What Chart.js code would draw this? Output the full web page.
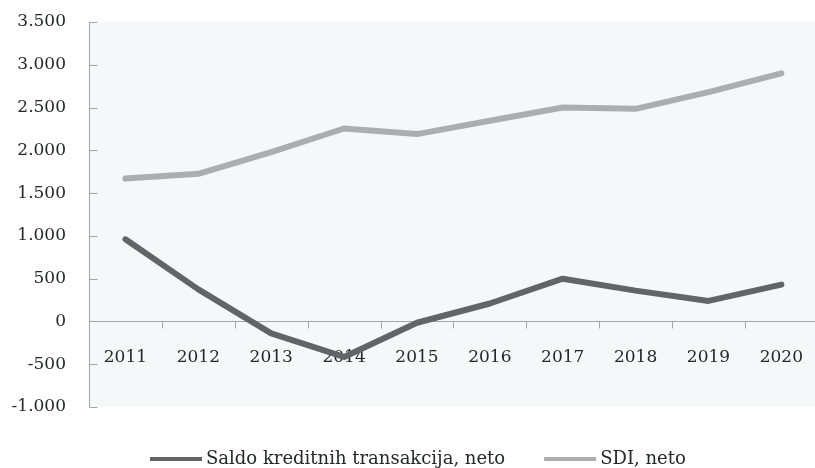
<!DOCTYPE html>
<html>
<head>
<meta charset="utf-8">
<script src="https://cdn.jsdelivr.net/npm/chart.js@4.4.1/dist/chart.umd.min.js"></script>
<style>
    html, body { margin: 0; padding: 0; background: #ffffff; }
    #wrap { width: 815px; height: 468px; overflow: hidden; position: relative; }
    #chart { position: absolute; left: 0; top: 0; }
</style>
</head>
<body>
<div id="wrap"><canvas id="chart" width="829" height="468"></canvas></div>
<script>
// Data
const years = ['2011', '2012', '2013', '2014', '2015', '2016', '2017', '2018', '2019', '2020'];
const saldoKredita = [960, 375, -140, -415, -15, 210, 500, 360, 240, 430];
const sdiNeto = [1670, 1725, 1980, 2255, 2190, 2345, 2500, 2485, 2680, 2900];
const seriesLabels = ['Saldo kreditnih transakcija, neto', 'SDI, neto'];
const yMin = -1000;
const yMax = 3500;
const yStep = 500;

const FONT = '"DejaVu Serif", "Liberation Serif", serif';
const FONT_SIZE = 17;
const LEGEND_FONT_SIZE = 18;
const TEXT_COLOR = '#26272a';
const AXIS_COLOR = '#a3a4a6';

// Thousands separator with a dot, e.g. -1.000
function formatNumber(v) {
    return String(v).replace(/\B(?=(\d{3})+(?!\d))/g, '.');
}

// Light grey fill behind the plot
const plotBackground = {
    id: 'plotBackground',
    beforeDraw(chart) {
        const { ctx, chartArea: a } = chart;
        ctx.save();
        ctx.fillStyle = '#f6f7f9';
        ctx.fillRect(a.left, a.top, a.right - a.left, a.bottom - a.top);
        ctx.restore();
    }
};

// Axis lines with inner ticks on y and boundary ticks below the zero line
const axisLines = {
    id: 'axisLines',
    beforeDatasetsDraw(chart) {
        const { ctx, chartArea: a, scales } = chart;
        const x = scales.x;
        const y = scales.y;
        const y0 = Math.round(y.getPixelForValue(0)) + 0.5;
        const left = Math.round(a.left) + 0.5;
        ctx.save();
        ctx.strokeStyle = AXIS_COLOR;
        ctx.lineWidth = 1;
        ctx.beginPath();
        ctx.moveTo(left, a.top);
        ctx.lineTo(left, a.bottom);
        y.ticks.forEach(t => {
            const py = Math.round(y.getPixelForValue(t.value)) + 0.5;
            ctx.moveTo(left, py);
            ctx.lineTo(left + 8, py);
        });
        ctx.moveTo(left, y0);
        ctx.lineTo(a.right, y0);
        for (let i = 1; i < years.length; i++) {
            const px = Math.round((x.getPixelForTick(i - 1) + x.getPixelForTick(i)) / 2) + 0.5;
            ctx.moveTo(px, y0);
            ctx.lineTo(px, y0 + 7);
        }
        ctx.stroke();
        ctx.restore();
    }
};

// Legend row under the plot
const bottomLegend = {
    id: 'bottomLegend',
    afterDraw(chart) {
        const ctx = chart.ctx;
        const lineLen = 52;
        const textGap = 4;
        const itemGap = 39;
        const cy = 459;
        ctx.save();
        ctx.font = LEGEND_FONT_SIZE + 'px ' + FONT;
        let x = 150;
        chart.data.datasets.forEach(ds => {
            ctx.strokeStyle = ds.borderColor;
            ctx.lineWidth = 4;
            ctx.lineCap = 'butt';
            ctx.beginPath();
            ctx.moveTo(x, cy);
            ctx.lineTo(x + lineLen, cy);
            ctx.stroke();
            x += lineLen + textGap;
            ctx.fillStyle = TEXT_COLOR;
            ctx.textAlign = 'left';
            ctx.textBaseline = 'middle';
            ctx.fillText(ds.label, x, cy);
            x += ctx.measureText(ds.label).width + itemGap;
        });
        ctx.restore();
    }
};

const ctx = document.getElementById('chart').getContext('2d');
new Chart(ctx, {
    type: 'line',
    data: {
        labels: years,
        datasets: [
            {
                label: seriesLabels[0],
                data: saldoKredita,
                borderColor: '#636468',
                backgroundColor: '#636468',
                borderWidth: 6,
                pointRadius: 0,
                tension: 0,
                borderCapStyle: 'round',
                borderJoinStyle: 'round'
            },
            {
                label: seriesLabels[1],
                data: sdiNeto,
                borderColor: '#abaeb1',
                backgroundColor: '#abaeb1',
                borderWidth: 6,
                pointRadius: 0,
                tension: 0,
                borderCapStyle: 'round',
                borderJoinStyle: 'round'
            }
        ]
    },
    options: {
        responsive: false,
        animation: false,
        layout: {
            padding: { top: 22, bottom: 61, left: 0, right: 0 }
        },
        plugins: {
            legend: { display: false },
            tooltip: { enabled: false }
        },
        scales: {
            x: {
                type: 'category',
                offset: true,
                position: { y: 0 },
                grid: { display: false, drawTicks: false },
                border: { display: false },
                ticks: {
                    padding: 26,
                    maxRotation: 0,
                    autoSkip: false,
                    color: TEXT_COLOR,
                    font: { family: FONT, size: FONT_SIZE }
                }
            },
            y: {
                min: yMin,
                max: yMax,
                grid: { display: false, drawTicks: false },
                border: { display: false },
                ticks: {
                    stepSize: yStep,
                    padding: 23,
                    color: TEXT_COLOR,
                    font: { family: FONT, size: FONT_SIZE },
                    callback: v => formatNumber(v)
                },
                afterFit(scale) {
                    scale.width = 89;
                    scale.paddingTop = 0;
                    scale.paddingBottom = 0;
                }
            }
        }
    },
    plugins: [plotBackground, axisLines, bottomLegend]
});
</script>
</body>
</html>
